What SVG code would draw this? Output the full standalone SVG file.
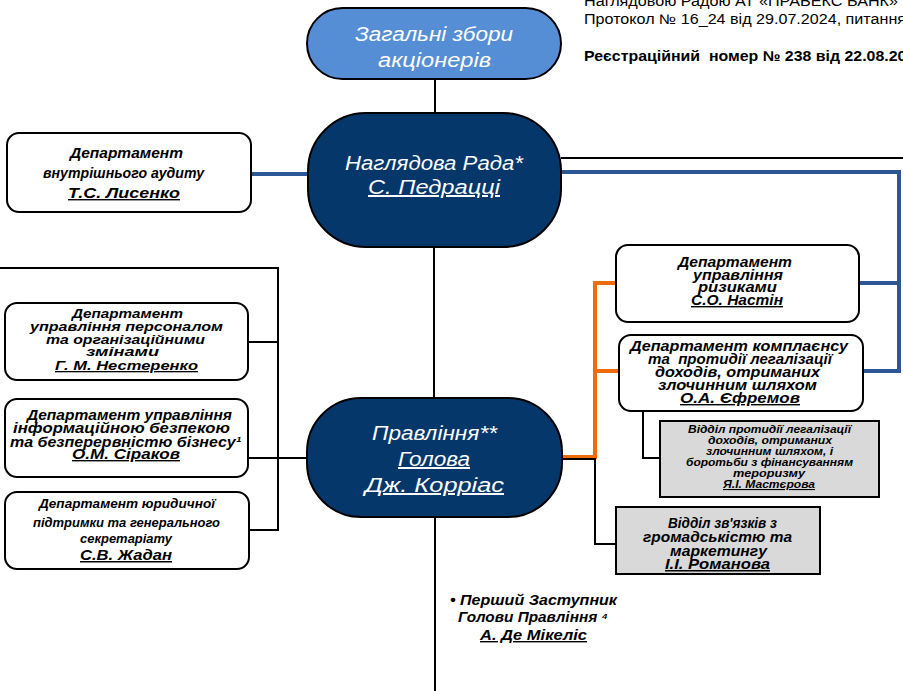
<svg xmlns="http://www.w3.org/2000/svg" width="903" height="691" viewBox="0 0 903 691">
<style>
.box{fill:#fff;stroke:#000;stroke-width:2}
.gbox{fill:#D9D9D9;stroke:#000;stroke-width:2}
.pill{fill:#05376B;stroke:#000;stroke-width:2}
.pill0{fill:#558ED5;stroke:#000;stroke-width:2}
.t{font-family:"Liberation Sans",Arial,sans-serif;font-weight:bold;font-style:italic;fill:#000;text-anchor:middle}
.p{font-family:"Liberation Sans",Arial,sans-serif;font-style:italic;fill:#fff;text-anchor:middle;font-size:20px}
.u{text-decoration:underline}
.hdr{font-family:"Liberation Sans",Arial,sans-serif;font-size:14px;fill:#000}
.k{fill:none;stroke:#000;stroke-width:2}
.b{fill:none;stroke:#2C5696;stroke-width:4}
.o{fill:none;stroke:#EE6C0C;stroke-width:4}
</style>
<g id="connectors">
<path class="k" d="M435 79V113"/>
<path class="k" d="M434 247V398"/>
<path class="k" d="M435 517V691" stroke-width="3"/>
<path class="b" d="M251 174H309"/>
<path class="k" d="M561 158H903"/>
<path class="b" d="M561 172H899V371H863M859 283H899"/>
<path class="o" d="M562 457H595V283H616M595 371H619"/>
<path class="k" d="M562 459H595V544H616"/>
<path class="k" d="M643 411V458H660"/>
<path class="k" d="M0 268H278V530H249M248 342H278"/>
<path class="k" d="M248 458H307" stroke-width="2.5"/>
</g>
<g id="header">
<text class="hdr" x="584" y="6" textLength="314" lengthAdjust="spacingAndGlyphs">Наглядовою Радою АТ «ПРАВЕКС БАНК»</text>
<text class="hdr" x="584" y="24" textLength="322" lengthAdjust="spacingAndGlyphs">Протокол № 16_24 від 29.07.2024, питання</text>
<text class="hdr" x="584" y="61" font-weight="bold" xml:space="preserve" textLength="340" lengthAdjust="spacingAndGlyphs">Реєстраційний  номер № 238 від 22.08.2024</text>
</g>
<g id="shareholders">
<rect class="pill0" x="307" y="8" width="254" height="71" rx="35.5"/>
<text class="p" x="434" y="41" font-size="21" textLength="158" lengthAdjust="spacingAndGlyphs">Загальні збори</text>
<text class="p" x="434.5" y="67" font-size="21" textLength="113" lengthAdjust="spacingAndGlyphs">акціонерів</text>
</g>
<g id="supervisory-board">
<rect class="pill" x="308" y="113" width="253" height="134" rx="58"/>
<text class="p" x="434" y="170" textLength="178" lengthAdjust="spacingAndGlyphs">Наглядова Рада*</text>
<text class="p u" x="434" y="194" textLength="132" lengthAdjust="spacingAndGlyphs">С. Педрацці</text>
</g>
<g id="audit">
<rect class="box" x="7" y="133" width="244" height="79" rx="12"/>
<text class="t" font-size="14" x="126.5" y="158" textLength="113" lengthAdjust="spacingAndGlyphs">Департамент</text>
<text class="t" font-size="14" x="123.5" y="178" textLength="161" lengthAdjust="spacingAndGlyphs">внутрішнього аудиту</text>
<text class="t u" font-size="14" x="124" y="198" textLength="112" lengthAdjust="spacingAndGlyphs">Т.С. Лисенко</text>
</g>
<g id="management-board">
<rect class="pill" x="307" y="398" width="255" height="119" rx="54"/>
<text class="p" x="434.5" y="440" textLength="125" lengthAdjust="spacingAndGlyphs">Правління**</text>
<text class="p u" x="434" y="466" textLength="72" lengthAdjust="spacingAndGlyphs">Голова</text>
<text class="p u" x="434.5" y="492" textLength="139" lengthAdjust="spacingAndGlyphs"> Дж. Корріас</text>
</g>
<g id="hr">
<rect class="box" x="5" y="303" width="243" height="77" rx="12"/>
<text class="t" font-size="13" x="127.5" y="318" textLength="111" lengthAdjust="spacingAndGlyphs">Департамент</text>
<text class="t" font-size="13" x="126.5" y="331" textLength="193" lengthAdjust="spacingAndGlyphs">управління персоналом</text>
<text class="t" font-size="13" x="125.5" y="344" textLength="159" lengthAdjust="spacingAndGlyphs">та організаційними</text>
<text class="t" font-size="13" x="122.5" y="356" textLength="73" lengthAdjust="spacingAndGlyphs">змінами</text>
<text class="t u" font-size="13" x="126.5" y="370" textLength="143" lengthAdjust="spacingAndGlyphs"> Г. М. Нестеренко</text>
</g>
<g id="infosec">
<rect class="box" x="5" y="399" width="243" height="78" rx="12"/>
<text class="t" font-size="14" x="129.5" y="420" textLength="205" lengthAdjust="spacingAndGlyphs">Департамент управління</text>
<text class="t" font-size="14" x="121.5" y="433" textLength="217" lengthAdjust="spacingAndGlyphs">інформаційною безпекою</text>
<text class="t" font-size="14" x="125.5" y="447" textLength="231" lengthAdjust="spacingAndGlyphs">та безперервністю бізнесу¹</text>
<text class="t u" font-size="14" x="126" y="459" textLength="108" lengthAdjust="spacingAndGlyphs">О.М. Сіраков</text>
</g>
<g id="legal">
<rect class="box" x="5" y="492" width="244" height="77" rx="12"/>
<text class="t" font-size="12" x="127" y="508" textLength="176" lengthAdjust="spacingAndGlyphs">Департамент юридичної</text>
<text class="t" font-size="12" x="126.5" y="527" textLength="187" lengthAdjust="spacingAndGlyphs">підтримки та генерального</text>
<text class="t" font-size="12" x="126" y="543" textLength="92" lengthAdjust="spacingAndGlyphs">секретаріату</text>
<text class="t u" font-size="15" x="126" y="560" textLength="92" lengthAdjust="spacingAndGlyphs">С.В. Жадан</text>
</g>
<g id="risk">
<rect class="box" x="616" y="245" width="243" height="77" rx="12"/>
<text class="t" font-size="14" x="735" y="267" textLength="114" lengthAdjust="spacingAndGlyphs">Департамент</text>
<text class="t" font-size="14" x="738" y="280" textLength="90" lengthAdjust="spacingAndGlyphs">управління</text>
<text class="t" font-size="14" x="737.5" y="292" textLength="79" lengthAdjust="spacingAndGlyphs">ризиками</text>
<text class="t u" font-size="14" x="737" y="305" textLength="92" lengthAdjust="spacingAndGlyphs">С.О. Настін</text>
</g>
<g id="compliance">
<rect class="box" x="619" y="335" width="244" height="76" rx="12"/>
<text class="t" font-size="14" x="739" y="351" textLength="218" lengthAdjust="spacingAndGlyphs">Департамент комплаєнсу</text>
<text class="t" font-size="14" x="740" y="364" textLength="184" lengthAdjust="spacingAndGlyphs" xml:space="preserve">та  протидії легалізації</text>
<text class="t" font-size="14" x="737.5" y="377" textLength="165" lengthAdjust="spacingAndGlyphs">доходів, отриманих</text>
<text class="t" font-size="14" x="737.5" y="390" textLength="159" lengthAdjust="spacingAndGlyphs">злочинним шляхом</text>
<text class="t u" font-size="14" x="740" y="403" textLength="120" lengthAdjust="spacingAndGlyphs">О.А. Єфремов</text>
</g>
<g id="aml-unit">
<rect class="gbox" x="660" y="421" width="219" height="76"/>
<text class="t" font-size="11" x="769.5" y="433" textLength="163" lengthAdjust="spacingAndGlyphs">Відділ протидії легалізації</text>
<text class="t" font-size="11" x="770" y="444" textLength="124" lengthAdjust="spacingAndGlyphs">доходів, отриманих</text>
<text class="t" font-size="11" x="769.5" y="455" textLength="127" lengthAdjust="spacingAndGlyphs">злочинним шляхом, і</text>
<text class="t" font-size="11" x="769.5" y="466" textLength="167" lengthAdjust="spacingAndGlyphs">боротьби з фінансуванням</text>
<text class="t" font-size="11" x="769" y="477" textLength="72" lengthAdjust="spacingAndGlyphs">тероризму</text>
<text class="t u" font-size="11" x="769" y="488" textLength="92" lengthAdjust="spacingAndGlyphs">Я.І. Мастєрова</text>
</g>
<g id="pr-unit">
<rect class="gbox" x="616" y="507" width="204" height="67"/>
<text class="t" font-size="15" x="722.5" y="528" textLength="109" lengthAdjust="spacingAndGlyphs">Відділ зв'язків з</text>
<text class="t" font-size="15" x="717.5" y="542" textLength="149" lengthAdjust="spacingAndGlyphs">громадськістю та</text>
<text class="t" font-size="15" x="718.5" y="556" textLength="97" lengthAdjust="spacingAndGlyphs">маркетингу</text>
<text class="t u" font-size="15" x="717.5" y="569" textLength="105" lengthAdjust="spacingAndGlyphs">І.І. Романова</text>
</g>
<g id="first-deputy">
<text class="t" font-size="14" x="533.5" y="605" textLength="167" lengthAdjust="spacingAndGlyphs">• Перший Заступник</text>
<text class="t" font-size="14" x="533" y="622" textLength="150" lengthAdjust="spacingAndGlyphs">Голови Правління ⁴</text>
<text class="t u" font-size="14" x="533.5" y="640" textLength="107" lengthAdjust="spacingAndGlyphs">А. Де Мікеліс</text>
</g>
</svg>
